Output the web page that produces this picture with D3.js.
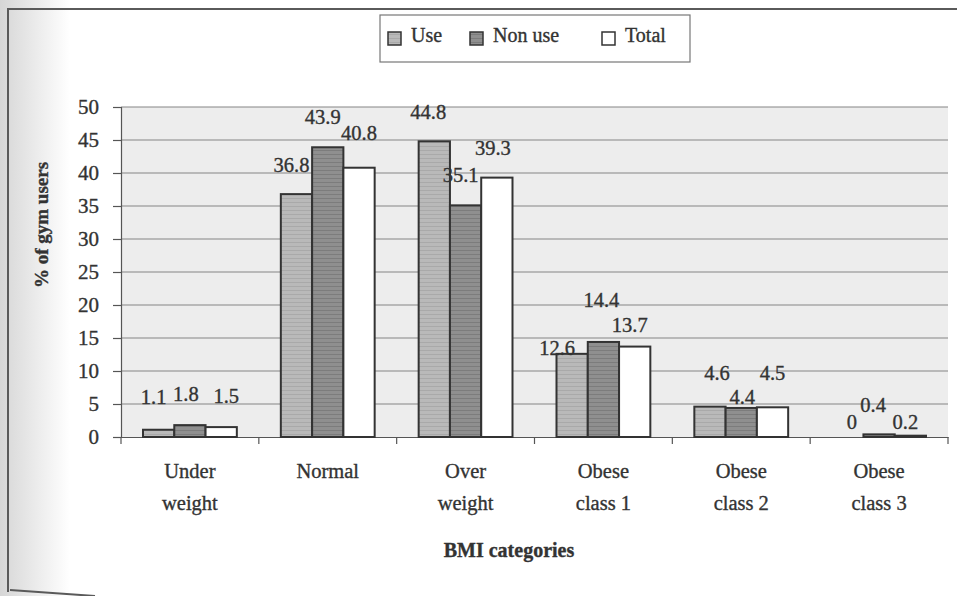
<!DOCTYPE html>
<html>
<head>
<meta charset="utf-8">
<script src="https://cdn.jsdelivr.net/npm/d3@7"></script>
<style>
  body { margin: 0; background: #fff; }
  text { font-family: "Liberation Serif", "DejaVu Serif", serif; fill: #333; stroke: #333; stroke-width: 0.35px; }
</style>
</head>
<body>
<div id="chart"></div>
<script>
// Dados
var categories   = ['Under weight', 'Normal', 'Over weight', 'Obese class 1', 'Obese class 2', 'Obese class 3'];
var series       = ['Use', 'Non use', 'Total'];
var use_vals     = [1.1, 36.8, 44.8, 12.6, 4.6, 0];
var nonuse_vals  = [1.8, 43.9, 35.1, 14.4, 4.4, 0.4];
var total_vals   = [1.5, 40.8, 39.3, 13.7, 4.5, 0.2];
var y_ticks      = [0, 5, 10, 15, 20, 25, 30, 35, 40, 45, 50];

// ajuste fino dos rotulos (dx, dy) em relacao a posicao padrao
var label_nudge = [
    [[-1, -3], [0, -1], [9, -1]],
    [[-1, 1], [-1, 0], [4, -5]],
    [[-2, 1], [-1, 0], [0, 0]],
    [[-11, 24], [2, -12], [-1, 8]],
    [[11, -4], [5, 19], [4, -4]],
    [[8, 15], [-2, 1], [-1, 16]]
];

var chart_width  = 957;
var chart_height = 596;
var plot = { left: 121, right: 948, top: 107, bottom: 437 };

var svg = d3.select('#chart')
    .append('svg')
    .attr('width', chart_width)
    .attr('height', chart_height);

var defs = svg.append('defs');

// fundo escaneado na borda esquerda
var grad = defs.append('linearGradient').attr('id', 'edge');
grad.append('stop').attr('offset', '0%').attr('stop-color', '#d6d6d6');
grad.append('stop').attr('offset', '100%').attr('stop-color', '#ffffff');
svg.append('rect')
    .attr('x', 0).attr('y', 0)
    .attr('width', 70).attr('height', chart_height)
    .attr('fill', 'url(#edge)');

// padroes das barras
function hatch(id, base, line) {
    var p = defs.append('pattern')
        .attr('id', id)
        .attr('patternUnits', 'userSpaceOnUse')
        .attr('width', 6).attr('height', 4);
    p.append('rect').attr('width', 6).attr('height', 4).attr('fill', base);
    p.append('rect').attr('y', 2).attr('width', 6).attr('height', 1).attr('fill', line);
}
hatch('pat-use', '#b9b9b9', '#a9a9a9');
hatch('pat-nonuse', '#8f8f8f', '#7c7c7c');
var fills = ['url(#pat-use)', 'url(#pat-nonuse)', '#ffffff'];

// moldura
svg.append('path')
    .attr('d', 'M8,592 L8,9 L957,9')
    .attr('fill', 'none')
    .attr('stroke', '#5a5a5a')
    .attr('stroke-width', 2);
svg.append('path')
    .attr('d', 'M10,590 Q40,592 95,596')
    .attr('fill', 'none')
    .attr('stroke', '#5a5a5a')
    .attr('stroke-width', 2);

// area do grafico
svg.append('rect')
    .attr('x', plot.left).attr('y', plot.top)
    .attr('width', plot.right - plot.left)
    .attr('height', plot.bottom - plot.top)
    .attr('fill', '#ededed');

// Escalas
var x_scale = d3.scaleBand()
    .domain(categories)
    .range([plot.left, plot.right]);

var x_inner = d3.scaleBand()
    .domain(series)
    .range([22, x_scale.bandwidth() - 22]);

var y_scale = d3.scaleLinear()
    .domain([0, 50])
    .range([plot.bottom, plot.top]);

// linhas de grade
svg.append('g')
    .selectAll('line')
    .data(y_ticks.slice(1))
    .enter()
    .append('line')
    .attr('x1', plot.left).attr('x2', plot.right)
    .attr('y1', function(d){ return y_scale(d); })
    .attr('y2', function(d){ return y_scale(d); })
    .attr('stroke', '#858585')
    .attr('stroke-width', 1.2);

// eixo y
var y_axis = d3.axisLeft(y_scale)
    .tickValues(y_ticks)
    .tickSize(8)
    .tickPadding(14);
var gy = svg.append('g')
    .attr('transform', 'translate(' + plot.left + ',0)')
    .call(y_axis);
gy.selectAll('path, line').attr('stroke', '#555').attr('stroke-width', 1.2);
gy.selectAll('text')
    .attr('font-size', 21)
    .attr('font-family', '"Liberation Serif", serif')
    .attr('fill', '#333');

// eixo x
var x_axis = d3.axisBottom(x_scale).tickFormat('').tickSize(0);
var gx = svg.append('g')
    .attr('transform', 'translate(0,' + plot.bottom + ')')
    .call(x_axis);
gx.select('.domain').attr('stroke', '#555').attr('stroke-width', 1.2);
gx.selectAll('.bound')
    .data(categories.concat(['end']))
    .enter()
    .append('line')
    .attr('x1', function(d, i){ return plot.left + i * x_scale.bandwidth(); })
    .attr('x2', function(d, i){ return plot.left + i * x_scale.bandwidth(); })
    .attr('y1', 0).attr('y2', 7)
    .attr('stroke', '#555')
    .attr('stroke-width', 1.2);

// barras
var rows = categories.map(function(c, i){
    return { cat: c, i: i, vals: [use_vals[i], nonuse_vals[i], total_vals[i]] };
});

var groups = svg.selectAll('.grp')
    .data(rows)
    .enter()
    .append('g')
    .attr('transform', function(d){ return 'translate(' + x_scale(d.cat) + ',0)'; });

groups.selectAll('rect')
    .data(function(d){ return d.vals.map(function(v, j){ return { s: series[j], v: v, j: j }; }).filter(function(e){ return e.v > 0; }); })
    .enter()
    .append('rect')
    .attr('x', function(d){ return x_inner(d.s); })
    .attr('y', function(d){ return y_scale(d.v); })
    .attr('width', x_inner.bandwidth())
    .attr('height', function(d){ return y_scale(0) - y_scale(d.v); })
    .attr('fill', function(d){ return fills[d.j]; })
    .attr('stroke', '#333')
    .attr('stroke-width', 2);

// rotulos
groups.selectAll('text')
    .data(function(d){ return d.vals.map(function(v, j){ return { s: series[j], v: v, j: j, i: d.i }; }); })
    .enter()
    .append('text')
    .text(function(d){ return d.v; })
    .attr('x', function(d){ return x_inner(d.s) + x_inner.bandwidth() / 2 - 4 + label_nudge[d.i][d.j][0]; })
    .attr('y', function(d){ return y_scale(d.v) - 30 + 7 + label_nudge[d.i][d.j][1]; })
    .attr('font-size', 20.5)
    .attr('text-anchor', 'middle');

// nomes das categorias
groups.each(function(d){
    var words = d.cat.split(' ');
    var lines = words.length > 2 ? [words[0], words.slice(1).join(' ')] : words;
    if (d.cat === 'Normal') lines = ['Normal'];
    d3.select(this).selectAll('.cat')
        .data(lines)
        .enter()
        .append('text')
        .text(function(t){ return t; })
        .attr('x', x_scale.bandwidth() / 2)
        .attr('y', function(t, k){ return 478 + k * 32; })
        .attr('font-size', 20.5)
        .attr('text-anchor', 'middle');
});

// titulos
svg.append('text')
    .text('BMI categories')
    .attr('x', 509).attr('y', 557)
    .attr('font-size', 20)
    .attr('font-weight', 'bold')
    .attr('text-anchor', 'middle');

svg.append('text')
    .text('% of gym users')
    .attr('transform', 'translate(48,225) rotate(-90)')
    .attr('font-size', 19)
    .attr('font-weight', 'bold')
    .attr('text-anchor', 'middle');

// legenda
var legend = svg.append('g');
legend.append('rect')
    .attr('x', 380).attr('y', 15)
    .attr('width', 310).attr('height', 47)
    .attr('fill', '#fff')
    .attr('stroke', '#777')
    .attr('stroke-width', 1.2)
    .style('stroke-width', 1.2);

var legend_x = [388, 470, 602];
var items = legend.selectAll('.item')
    .data(series)
    .enter()
    .append('g')
    .attr('transform', function(d, i){ return 'translate(' + legend_x[i] + ',32)'; });

items.append('rect')
    .attr('width', 13).attr('height', 13)
    .attr('fill', function(d, i){ return fills[i]; })
    .attr('stroke', '#333')
    .attr('stroke-width', 1.5);

items.append('text')
    .text(function(d){ return d; })
    .attr('x', 23)
    .attr('y', 10)
    .attr('font-size', 20);
</script>
</body>
</html>
